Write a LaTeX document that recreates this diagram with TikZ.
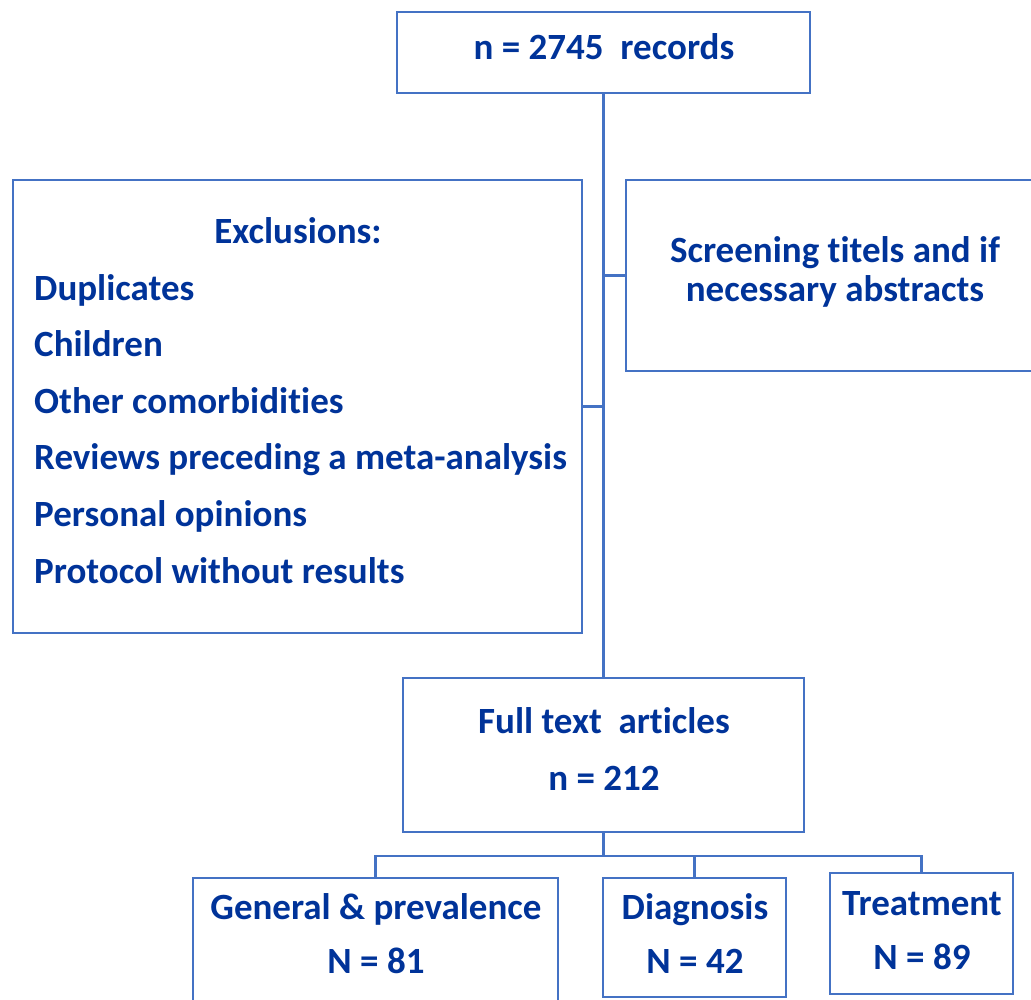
\documentclass[tikz,border=0pt]{standalone}
\usepackage{fontspec}
\setmainfont[Ligatures=NoCommon]{Carlito}
\definecolor{boxblue}{RGB}{68,114,196}
\definecolor{txtblue}{RGB}{0,51,153}
\tikzset{
  box/.style={draw=boxblue, line width=2.4pt, rectangle, inner sep=0pt},
  txt/.style={text=txtblue, font=\fontsize{37}{44}\selectfont\bfseries, inner sep=0pt},
  conn/.style={draw=boxblue, line width=2.4pt}
}
\begin{document}
\begin{tikzpicture}[x=1pt,y=-1pt]
\useasboundingbox (0,0) rectangle (1031,999);
% boxes
\node[box, minimum width=413pt, minimum height=81pt] (top) at (603.5,52.5) {};
\node[box, minimum width=569pt, minimum height=453pt] (excl) at (297.5,406.5) {};
\node[box, minimum width=419pt, minimum height=191pt] (screen) at (835.5,275.5) {};
\node[box, minimum width=401pt, minimum height=154pt] (full) at (603.5,755) {};
\node[box, minimum width=365pt, minimum height=132pt] (gen) at (375.5,944) {};
\node[box, minimum width=183pt, minimum height=119pt] (diag) at (694.5,937.5) {};
\node[box, minimum width=183pt, minimum height=121pt] (treat) at (921.5,933.5) {};
% texts
\node[txt, anchor=base] (t1) at (604,59) {n = 2745\ \ records};
\node[txt, anchor=base] (e0) at (298,243) {Exclusions:};
\node[txt, anchor=base west] (e1) at (34,300) {Duplicates};
\node[txt, anchor=base west] (e2) at (34,356) {Children};
\node[txt, anchor=base west] (e3) at (34,413) {Other comorbidities};
\node[txt, anchor=base west] (e4) at (34,469) {Reviews preceding a meta-analysis};
\node[txt, anchor=base west] (e5) at (34,526) {Personal opinions};
\node[txt, anchor=base west] (e6) at (34,583) {Protocol without results};
\node[txt, anchor=base] (s1) at (835,262) {Screening titels and if};
\node[txt, anchor=base] (s2) at (835,301) {necessary abstracts};
\node[txt, anchor=base] (f1) at (604,733) {Full text\ \ articles};
\node[txt, anchor=base] (f2) at (604,790) {n = 212};
\node[txt, anchor=base] (g1) at (376,919) {General \& prevalence};
\node[txt, anchor=base] (g2) at (376,973) {N = 81};
\node[txt, anchor=base] (d1) at (695,919) {Diagnosis};
\node[txt, anchor=base] (d2) at (695,973) {N = 42};
\node[txt, anchor=base] (r1) at (922,915) {Treatment};
\node[txt, anchor=base] (r2) at (922,969) {N = 89};
% connectors
\draw[conn] (top.south) -- (full.north);
\draw[conn] (excl.east) -- (excl.east -| top.south);
\draw[conn] (screen.west) -- (screen.west -| top.south);
\coordinate (bus) at (603.5,856);
\draw[conn] (full.south) -- (bus);
\draw[conn] (gen.north) |- (bus) -| (treat.north);
\draw[conn] (diag.north) -- (diag.north |- bus);
\end{tikzpicture}
\end{document}
